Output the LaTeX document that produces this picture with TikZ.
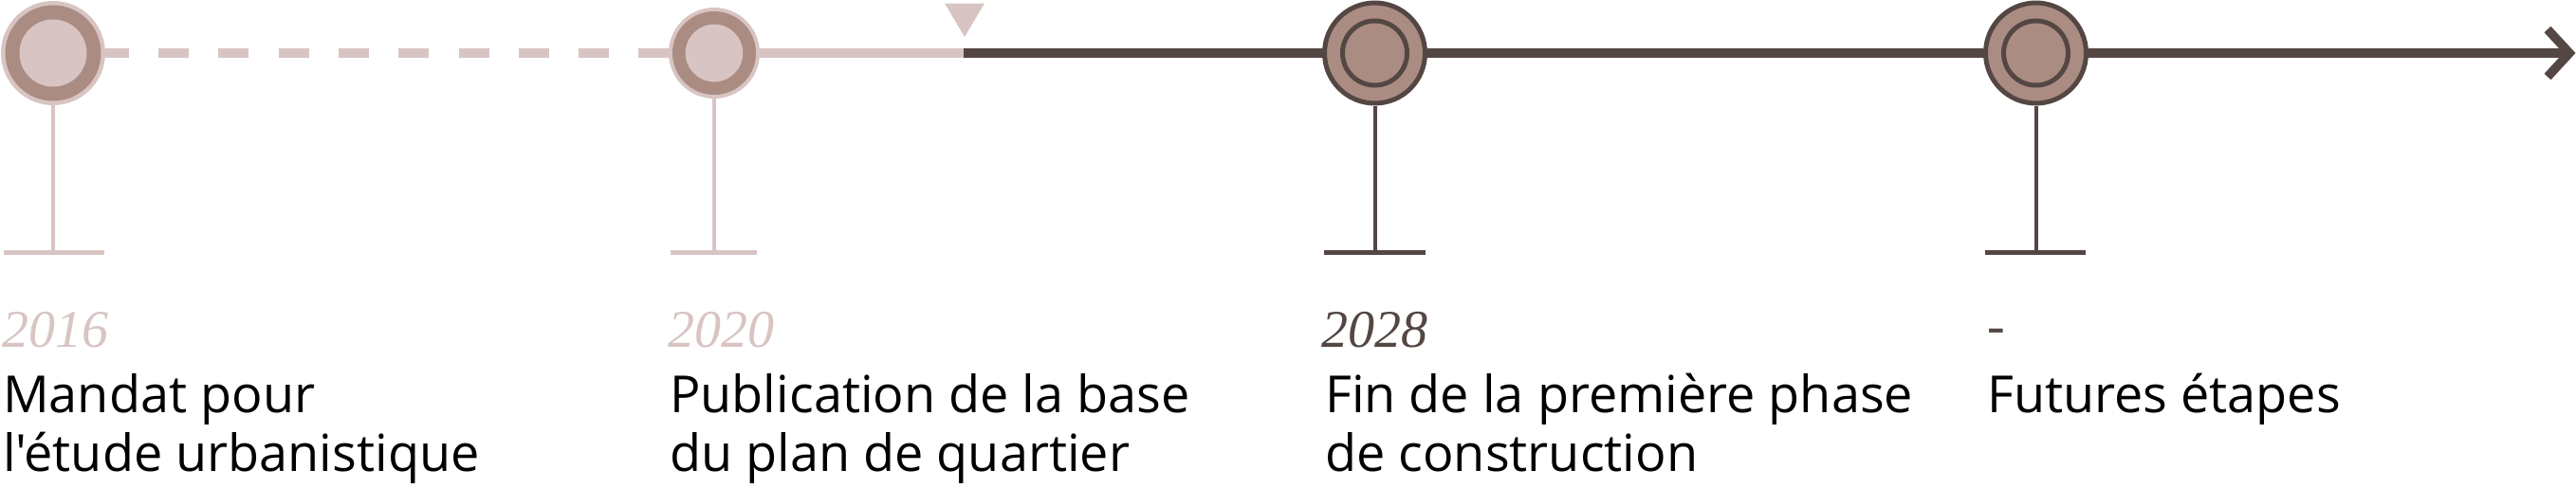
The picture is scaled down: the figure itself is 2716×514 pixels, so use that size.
\documentclass[tikz,border=0pt]{standalone}
\usepackage{fontspec}
\newfontfamily\bodyfont{Open Sans}
\newfontfamily\yearfont{Liberation Serif}
\definecolor{pale}{RGB}{216,197,195}
\definecolor{mid}{RGB}{171,140,131}
\definecolor{dark}{RGB}{84,71,67}
\begin{document}
\begin{tikzpicture}[x=1pt,y=-1pt,
  body/.style={anchor=base west, inner sep=0pt, font=\bodyfont\fontsize{54}{62}\selectfont, text=black},
  year/.style={anchor=base west, inner sep=0pt, font=\yearfont\itshape\fontsize{56}{62}\selectfont},
  disc/.style={circle, inner sep=0pt, minimum size=#1},
  axis/.style={line width=10.5pt},
  stem/.style={line width=4pt},
  foot/.style={line width=5pt},
]
\useasboundingbox (0,0) rectangle (2716,514);
% centres
\coordinate (p1) at (56,56);
\coordinate (p2) at (753,56);
\coordinate (p3) at (1449.5,56);
\coordinate (p4) at (2146.5,56);
\coordinate (now) at (1016,56);
\coordinate (tip) at (2709,56);
\coordinate (armA) at (2686,31);
\coordinate (armB) at (2686,81);
% axis
\draw[pale, axis, dash pattern=on 32pt off 31.3pt, dash phase=15.6pt] (p1) -- (p2);
\draw[pale, axis] (p2) -- (now);
\draw[dark, axis] (now) -- (tip);
\draw[dark, line width=9.5pt, line join=miter] (armA) -- (tip) -- (armB);
% today marker
\coordinate (m1) at (996,3.5);
\coordinate (m2) at (1038,3.5);
\coordinate (m3) at (1017,39);
\fill[pale] (m1) -- (m2) -- (m3) -- cycle;
% milestone 1
\node[disc=110pt, fill=pale] (c1) at (p1) {};
\node[disc=101pt, fill=mid] (c1m) at (p1) {};
\node[disc=71pt, fill=pale] (c1i) at (p1) {};
% milestone 2
\node[disc=96pt, fill=pale] (c2) at (p2) {};
\node[disc=88pt, fill=mid] (c2m) at (p2) {};
\node[disc=60.6pt, fill=pale] (c2i) at (p2) {};
% milestone 3
\node[disc=106pt, fill=mid, draw=dark, line width=5pt] (c3) at (p3) {};
\node[disc=68pt, draw=dark, line width=5pt] (c3i) at (p3) {};
% milestone 4
\node[disc=106pt, fill=mid, draw=dark, line width=5pt] (c4) at (p4) {};
\node[disc=68pt, draw=dark, line width=5pt] (c4i) at (p4) {};
% stems and feet
\coordinate (b1) at (56,266.5);
\coordinate (b1l) at (3.5,266.5);
\coordinate (b1r) at (109.5,266.5);
\coordinate (b2) at (753,266.5);
\coordinate (b2l) at (707,266.5);
\coordinate (b2r) at (798,266.5);
\coordinate (b3) at (1449.5,266.5);
\coordinate (b3l) at (1396,266.5);
\coordinate (b3r) at (1503,266.5);
\coordinate (b4) at (2146.5,266.5);
\coordinate (b4l) at (2093,266.5);
\coordinate (b4r) at (2199,266.5);
\draw[pale, stem] (c1.south) -- (b1);
\draw[pale, foot] (b1l) -- (b1r);
\draw[pale, stem] (c2.south) -- (b2);
\draw[pale, foot] (b2l) -- (b2r);
\draw[dark, stem] (c3.south) -- (b3);
\draw[dark, foot] (b3l) -- (b3r);
\draw[dark, stem] (c4.south) -- (b4);
\draw[dark, foot] (b4l) -- (b4r);
% labels
\node[year, text=pale] (y1) at (2,366) {2016};
\node[year, text=pale] (y2) at (704,366) {2020};
\node[year, text=dark] (y3) at (1393,366) {2028};
\node[year, text=dark] (y4) at (2095,362) {-};
\node[body] (t1a) at (3,435) {Mandat pour};
\node[body] (t1b) at (3,497) {l'étude urbanistique};
\node[body] (t2a) at (706,435) {Publication de la base};
\node[body] (t2b) at (706,497) {du plan de quartier};
\node[body] (t3a) at (1397,435) {Fin de la première phase};
\node[body] (t3b) at (1397,497) {de construction};
\node[body] (t4a) at (2095,435) {Futures étapes};
\end{tikzpicture}
\end{document}
